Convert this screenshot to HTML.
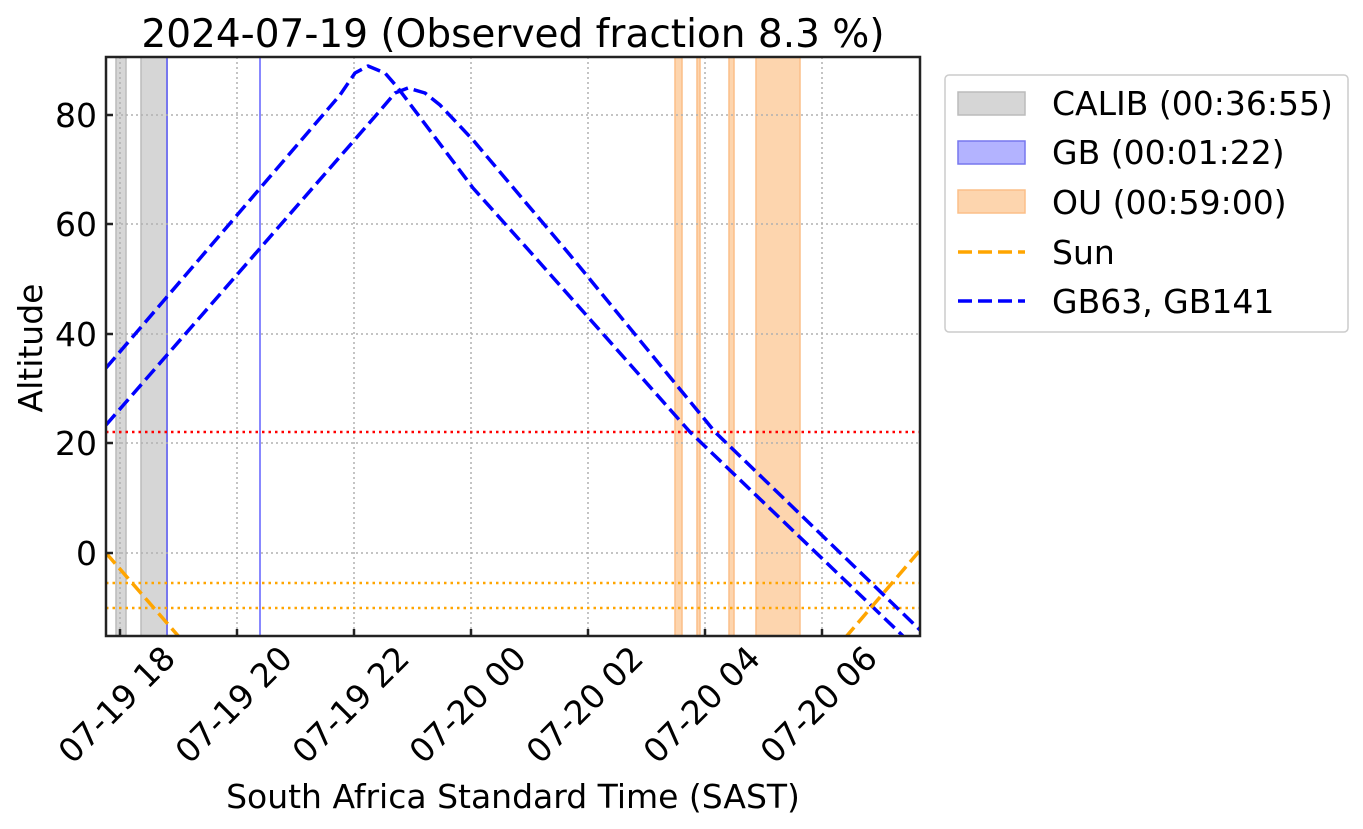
<!DOCTYPE html>
<html><head><style>body{margin:0;background:#fff}svg{display:block}text{font-family:"DejaVu Sans","Liberation Sans",sans-serif;fill:#000}</style></head><body>
<svg width="1363" height="829" viewBox="0 0 1363 829" xmlns="http://www.w3.org/2000/svg">
<rect width="1363" height="829" fill="#fff"/>
<text x="513" y="47" font-size="39" text-anchor="middle">2024-07-19 (Observed fraction 8.3 %)</text>
<rect x="116" y="57" width="10" height="579" fill="#d6d6d6" stroke="#bbb" stroke-width="1.5"/>
<rect x="141" y="57" width="26" height="579" fill="#d6d6d6" stroke="#bbb" stroke-width="1.5"/>
<line x1="167" y1="57" x2="167" y2="636" stroke="#7777ee" stroke-width="2"/>
<line x1="260" y1="57" x2="260" y2="636" stroke="#8888ff" stroke-width="2"/>
<g fill="#fdd5ae" stroke="#fbbf88" stroke-width="1.5">
<rect x="675" y="57" width="7" height="579"/>
<rect x="697" y="57" width="3" height="579"/>
<rect x="729" y="57" width="5" height="579"/>
<rect x="756" y="57" width="44" height="579"/>
</g>
<g stroke="#b0b0b0" stroke-width="1.5" stroke-dasharray="2,3">
<line x1="120" y1="57" x2="120" y2="636"/><line x1="237" y1="57" x2="237" y2="636"/><line x1="354" y1="57" x2="354" y2="636"/><line x1="471" y1="57" x2="471" y2="636"/><line x1="588" y1="57" x2="588" y2="636"/><line x1="705" y1="57" x2="705" y2="636"/><line x1="822" y1="57" x2="822" y2="636"/>
<line x1="106" y1="115" x2="920" y2="115"/><line x1="106" y1="224" x2="920" y2="224"/><line x1="106" y1="334" x2="920" y2="334"/><line x1="106" y1="443" x2="920" y2="443"/><line x1="106" y1="553" x2="920" y2="553"/>
</g>
<line x1="106" y1="432" x2="920" y2="432" stroke="red" stroke-width="2.5" stroke-dasharray="2.5,4"/>
<line x1="106" y1="583" x2="920" y2="583" stroke="orange" stroke-width="2.5" stroke-dasharray="2.5,4"/>
<line x1="106" y1="608" x2="920" y2="608" stroke="orange" stroke-width="2.5" stroke-dasharray="2.5,4"/>
<clipPath id="c"><rect x="106" y="57" width="814" height="579"/></clipPath>
<g clip-path="url(#c)" fill="none" stroke-width="3.5" stroke-dasharray="14,6" stroke-linejoin="round">
<polyline stroke="#0000ff" points="106,368 340,95 355,73 368,66 385,73 398,88 473,188 533,255 690,432 903,636"/>
<polyline stroke="#0000ff" points="106,425 378,113 395,93 408,88 425,93 440,105 473,140 570,255 715,432 920,630"/>
<line x1="106" y1="553" x2="180" y2="638" stroke="orange"/>
<line x1="845" y1="638" x2="922" y2="548" stroke="orange"/>
</g>
<rect x="106" y="57" width="814" height="579" fill="none" stroke="#222" stroke-width="2.5"/>
<g stroke="#222" stroke-width="2.5">
<line x1="106" y1="115" x2="113" y2="115"/><line x1="106" y1="224" x2="113" y2="224"/><line x1="106" y1="334" x2="113" y2="334"/><line x1="106" y1="443" x2="113" y2="443"/><line x1="106" y1="553" x2="113" y2="553"/>
<line x1="120" y1="636" x2="120" y2="629"/><line x1="237" y1="636" x2="237" y2="629"/><line x1="354" y1="636" x2="354" y2="629"/><line x1="471" y1="636" x2="471" y2="629"/><line x1="588" y1="636" x2="588" y2="629"/><line x1="705" y1="636" x2="705" y2="629"/><line x1="822" y1="636" x2="822" y2="629"/>
</g>
<g font-size="33" text-anchor="end">
<text x="97" y="127">80</text><text x="97" y="236">60</text><text x="97" y="346">40</text><text x="97" y="455">20</text><text x="97" y="565">0</text>
</g>
<g font-size="33" text-anchor="middle">
<text transform="translate(117,705) rotate(-45)" dy="11">07-19 18</text>
<text transform="translate(234,705) rotate(-45)" dy="11">07-19 20</text>
<text transform="translate(351,705) rotate(-45)" dy="11">07-19 22</text>
<text transform="translate(468,705) rotate(-45)" dy="11">07-20 00</text>
<text transform="translate(585,705) rotate(-45)" dy="11">07-20 02</text>
<text transform="translate(702,705) rotate(-45)" dy="11">07-20 04</text>
<text transform="translate(819,705) rotate(-45)" dy="11">07-20 06</text>
</g>
<text x="513" y="808" font-size="33" text-anchor="middle">South Africa Standard Time (SAST)</text>
<text transform="translate(42,348) rotate(-90)" font-size="33" text-anchor="middle">Altitude</text>
<rect x="945" y="75" width="403" height="257" rx="4" fill="#fff" stroke="#ccc" stroke-width="1.5"/>
<rect x="958" y="92" width="67" height="23" fill="#d6d6d6" stroke="#bbb" stroke-width="1.5"/>
<rect x="958" y="141" width="67" height="23" fill="#b3b3ff" stroke="#7777ee" stroke-width="1.5"/>
<rect x="958" y="190" width="67" height="23" fill="#fdd5ae" stroke="#fbbf88" stroke-width="1.5"/>
<line x1="958" y1="252" x2="1025" y2="252" stroke="orange" stroke-width="3.5" stroke-dasharray="14,6"/>
<line x1="958" y1="301" x2="1025" y2="301" stroke="#0000ff" stroke-width="3.5" stroke-dasharray="14,6"/>
<g font-size="33">
<text x="1052" y="115">CALIB (00:36:55)</text>
<text x="1052" y="164">GB (00:01:22)</text>
<text x="1052" y="214">OU (00:59:00)</text>
<text x="1052" y="264">Sun</text>
<text x="1052" y="313">GB63, GB141</text>
</g>
</svg>
</body></html>
